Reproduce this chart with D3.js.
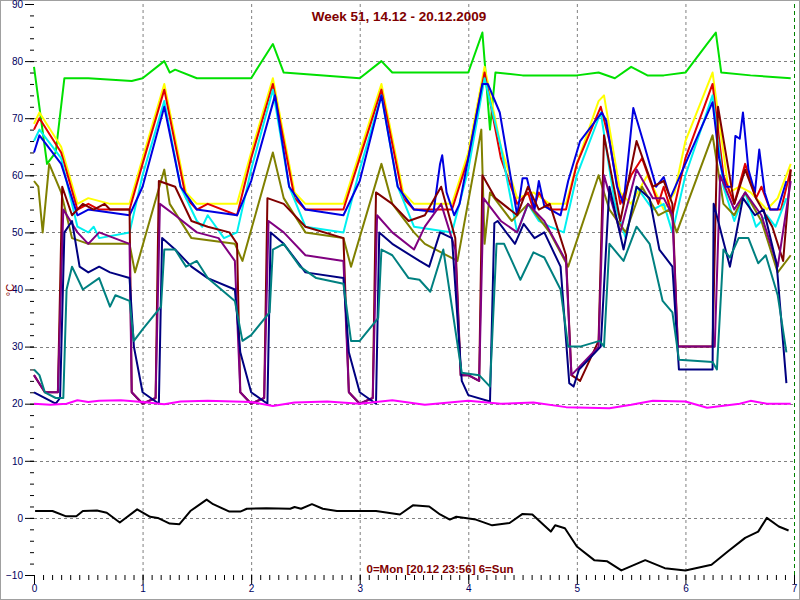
<!DOCTYPE html>
<html><head><meta charset="utf-8">
<script src="https://cdn.jsdelivr.net/npm/d3@7"></script>
<style>body{margin:0;background:#fff}svg{display:block}</style></head>
<body><svg id="c" width="800" height="600"></svg>
<script>
const title = "Week 51, 14.12 - 20.12.2009";
const footer = "0=Mon [20.12 23:56] 6=Sun";
const xTicks = [0,1,2,3,4,5,6,7];
const yTicks = [-10,0,10,20,30,40,50,60,70,80,90];

const green = [[0,79],[0.12,62],[0.2,64],[0.28,77],[0.5,77],[0.9,76.5],[1.0,77],[1.2,80],[1.25,78],[1.3,78.5],[1.5,77],[2.0,77],[2.2,83],[2.3,78],[3.0,77],[3.2,80],[3.3,78],[4.0,78],[4.13,85],[4.2,68],[4.25,78],[4.5,77.5],[5.0,77.5],[5.2,78],[5.35,77],[5.5,79],[5.65,77.5],[5.8,77.5],[6.0,78],[6.2,83],[6.28,85],[6.33,78],[6.6,77.5],[6.97,77]];
const yellow = [[0,69],[0.05,71],[0.25,65],[0.4,55],[0.5,56],[0.7,55],[0.88,55],[1.0,63],[1.2,76],[1.4,57],[1.5,55],[1.7,55],[1.87,55],[2.0,64],[2.2,77],[2.4,57],[2.5,55],[2.85,55],[3.0,64],[3.2,76],[3.4,57],[3.5,55],[3.85,55],[4.0,64],[4.15,79],[4.3,65],[4.45,56],[4.6,57],[4.75,55],[4.9,55],[5.0,62],[5.2,73],[5.25,74],[5.4,57],[5.5,55],[5.65,60],[5.8,54],[5.9,57],[6.0,66],[6.25,78],[6.4,57],[6.5,58],[6.6,57],[6.75,54],[6.85,56],[6.97,62]];
const red = [[0,68],[0.05,70],[0.25,64],[0.4,54],[0.5,55],[0.6,54],[0.88,54],[1.0,62],[1.2,75],[1.4,56],[1.5,54],[1.6,55],[1.87,53],[2.0,63],[2.2,76],[2.4,56],[2.5,54],[2.85,54],[3.0,63],[3.2,75],[3.4,56],[3.5,54],[3.85,54],[4.0,63],[4.15,78],[4.3,63],[4.45,55],[4.55,57],[4.6,54],[4.65,57],[4.75,54],[4.9,54],[5.0,62],[5.22,72],[5.3,66],[5.4,55],[5.5,60],[5.6,63],[5.75,55],[5.8,58],[5.88,53],[6.0,63],[6.25,76],[6.35,60],[6.45,55],[6.55,62],[6.65,56],[6.7,58],[6.78,54],[6.88,54],[6.97,61]];
const cyan = [[0,66],[0.05,68],[0.25,63],[0.4,51],[0.5,50],[0.55,51],[0.6,49],[0.88,50],[1.0,60],[1.2,73],[1.35,58],[1.5,52],[1.55,51],[1.6,53],[1.75,49],[1.87,50],[2.0,61],[2.2,75],[2.35,58],[2.5,51],[2.85,50],[3.0,61],[3.2,74],[3.35,58],[3.5,51],[3.85,50],[4.0,61],[4.15,77],[4.3,65],[4.45,50],[4.55,55],[4.65,52],[4.75,51],[4.88,50],[5.0,60],[5.22,71],[5.35,55],[5.45,49],[5.55,58],[5.7,54],[5.8,55],[5.88,50],[6.0,60],[6.25,74],[6.35,58],[6.45,52],[6.55,57],[6.65,51],[6.75,53],[6.83,51],[6.93,56]];
const blue = [[0,64],[0.05,67],[0.25,62],[0.4,53],[0.5,54],[0.88,53],[1.0,58],[1.2,72],[1.35,58],[1.5,54],[1.87,53],[2.0,59],[2.22,74],[2.35,58],[2.5,54],[2.85,53],[3.0,59],[3.2,74],[3.35,58],[3.5,54],[3.68,53.6],[3.74,62],[3.76,63.5],[3.8,57],[3.87,53],[3.92,55],[4.13,76],[4.18,76],[4.29,71],[4.45,53],[4.5,59.5],[4.54,59.5],[4.61,54],[4.65,59],[4.7,54.6],[4.85,53],[4.92,59],[5.03,66],[5.23,71],[5.27,69.6],[5.37,58],[5.43,55],[5.52,71.8],[5.61,66],[5.73,58],[5.8,59.7],[5.86,56],[6.25,72.8],[6.31,63],[6.37,58],[6.43,58],[6.46,66.9],[6.5,66.4],[6.53,71],[6.58,61],[6.64,57],[6.68,64.5],[6.73,57],[6.78,54],[6.85,54],[6.93,59]];
const olive = [[0,59],[0.04,58],[0.08,50],[0.14,62],[0.25,57],[0.35,49],[0.5,48],[0.88,48],[0.93,43],[1.2,61],[1.25,55],[1.45,49],[1.85,48],[1.92,45],[2.2,64],[2.3,56],[2.5,50],[2.85,49],[2.92,44],[3.2,62],[3.3,55],[3.5,50],[3.6,48],[3.9,45],[4.12,68],[4.15,48],[4.2,57],[4.4,52],[4.55,55],[4.75,50],[4.92,44],[5.2,60],[5.3,54],[5.45,50],[5.6,58],[5.75,53],[5.85,54],[5.92,50],[6.25,67],[6.35,55],[6.45,53],[6.55,57],[6.7,52],[6.85,43],[6.97,46]];
const maroon = [[0,25],[0.1,22],[0.22,22],[0.26,58],[0.35,53],[0.45,55],[0.55,54],[0.65,55],[0.7,54],[0.88,54],[0.9,22],[1.0,20],[1.12,21],[1.15,59],[1.3,58],[1.45,52],[1.6,51],[1.8,50],[1.87,48],[1.9,22],[2.0,20],[2.12,21],[2.15,56],[2.3,55],[2.5,51],[2.85,49],[2.9,22],[3.0,20],[3.12,21],[3.15,57],[3.3,55],[3.45,52],[3.6,53],[3.75,58],[3.88,49],[3.93,25],[4.0,25],[4.1,24],[4.13,60],[4.25,56],[4.45,53],[4.55,58],[4.65,54],[4.75,55],[4.9,46],[4.95,25],[5.03,24],[5.2,31],[5.25,67],[5.4,52],[5.55,66],[5.7,58],[5.8,59],[5.88,55],[5.93,30],[6.25,30],[6.3,72],[6.45,55],[6.55,61],[6.65,56],[6.8,51],[6.9,45],[6.97,61]];
const purple = [[0,25],[0.1,22],[0.22,22],[0.27,54],[0.4,50],[0.5,48],[0.6,50],[0.88,48],[0.9,22],[1.0,20],[1.12,21],[1.16,55],[1.3,53],[1.5,50],[1.7,49],[1.85,45],[1.9,22],[2.0,20],[2.12,21],[2.16,52],[2.3,50],[2.5,46],[2.85,45],[2.9,22],[3.0,20],[3.12,21],[3.16,53],[3.3,50],[3.5,47],[3.6,51],[3.75,55],[3.88,47],[3.93,25],[4.0,25],[4.1,24],[4.14,56],[4.3,52],[4.45,50],[4.55,55],[4.7,52],[4.9,45],[4.95,25],[5.2,30],[5.25,60],[5.4,50],[5.55,61],[5.7,56],[5.8,56],[5.88,53],[5.93,30],[6.27,30],[6.32,60],[6.45,54],[6.55,57],[6.7,53],[6.85,44],[6.97,59]];
const navy = [[0,22],[0.2,20],[0.24,21],[0.28,50],[0.35,52],[0.42,44],[0.5,43],[0.6,44],[0.7,43],[0.88,42],[0.92,30],[1.0,22],[1.15,20],[1.18,49],[1.3,47],[1.45,44],[1.6,42],[1.85,40],[1.9,29],[2.0,22],[2.15,20],[2.18,50],[2.3,48],[2.5,43],[2.85,42],[2.9,29],[3.0,22],[3.15,20],[3.18,50],[3.3,48],[3.55,45],[3.64,44],[3.74,50],[3.85,49],[3.94,24],[4.0,21.5],[4.2,20.4],[4.24,51.6],[4.27,52],[4.43,48],[4.51,51.5],[4.61,49],[4.7,50],[4.85,44],[4.93,23.6],[4.97,23],[5.02,26],[5.22,30],[5.3,58],[5.43,47],[5.55,58],[5.67,56],[5.76,47],[5.88,44],[5.94,26],[6.25,26],[6.26,55],[6.41,44],[6.53,56],[6.64,53],[6.72,54],[6.84,44.5],[6.93,23.6]];
const teal = [[0,26],[0.05,25],[0.1,22],[0.2,21],[0.27,21],[0.3,40],[0.35,44],[0.45,40],[0.6,42],[0.7,37],[0.75,39],[0.88,38],[0.92,31],[1.0,33],[1.17,37],[1.2,47],[1.3,47],[1.4,44],[1.5,45],[1.6,42],[1.85,38],[1.92,31],[2.0,32],[2.17,36],[2.2,47],[2.3,48],[2.45,44],[2.6,42],[2.85,41],[2.92,31],[3.0,31],[3.17,35],[3.2,47],[3.3,46],[3.45,42],[3.55,41.7],[3.65,39.6],[3.77,47],[3.94,25.4],[4.1,25],[4.2,23],[4.26,48],[4.33,48],[4.48,41.7],[4.6,46.5],[4.7,45.6],[4.85,40],[4.92,30],[5.03,30],[5.21,31],[5.25,30],[5.3,48],[5.43,45],[5.55,51],[5.67,48],[5.79,38],[5.88,36],[5.94,27.7],[6.25,27.3],[6.29,26],[6.35,47],[6.41,45.6],[6.49,49],[6.58,49],[6.67,44.6],[6.74,46],[6.85,39],[6.93,29]];
const magenta = [[0,20],[0.15,19.8],[0.3,20],[0.4,20.6],[0.5,20.3],[0.6,20.5],[0.8,20.6],[1.0,20.3],[1.2,19.9],[1.35,20.4],[1.6,20.5],[2.0,20.3],[2.2,19.6],[2.4,20.2],[2.7,20.4],[3.0,20.0],[3.3,20.6],[3.6,19.8],[4.0,20.5],[4.3,20.0],[4.6,20.2],[4.9,19.4],[5.3,19.2],[5.5,19.8],[5.7,20.5],[6.0,20.4],[6.2,19.3],[6.5,20.0],[6.6,20.5],[6.75,20],[6.97,20]];
const black = [[0.01,1.2],[0.17,1.2],[0.29,0.3],[0.39,0.3],[0.45,1.2],[0.58,1.3],[0.67,0.9],[0.79,-0.8],[0.95,1.5],[1.07,0.2],[1.14,0],[1.25,-1],[1.34,-1.1],[1.44,1.2],[1.59,3.2],[1.65,2.4],[1.8,1.1],[1.9,1.1],[1.96,1.6],[2.14,1.7],[2.36,1.6],[2.4,1.9],[2.46,1.6],[2.56,2.4],[2.66,1.6],[2.79,1.2],[3.03,1.2],[3.15,1.2],[3.37,0.6],[3.49,2.2],[3.64,2],[3.74,0.6],[3.83,-0.3],[3.89,0.2],[4.07,-0.3],[4.22,-1.3],[4.38,-0.9],[4.5,0.7],[4.59,0.6],[4.76,-2.4],[4.8,-1.3],[4.89,-1.8],[5.0,-5],[5.16,-7.4],[5.28,-7.6],[5.41,-9.2],[5.63,-7.4],[5.81,-8.8],[6.0,-9.2],[6.24,-8.2],[6.39,-5.9],[6.55,-3.5],[6.67,-2.4],[6.75,0],[6.86,-1.5],[6.95,-2.2]];

const series = [
  {d:green,c:"#00e000"},{d:yellow,c:"#ffff00"},{d:red,c:"#e00000"},{d:cyan,c:"#00f0f0"},
  {d:blue,c:"#0000e0"},{d:olive,c:"#808000"},{d:maroon,c:"#800000"},{d:purple,c:"#800080"},
  {d:navy,c:"#000080"},{d:teal,c:"#008080"},{d:magenta,c:"#ff00ff"},{d:black,c:"#000000"}];

const svg = d3.select("#c");
const x = d3.scaleLinear().domain([0,7]).range([34,794]);
const y = d3.scaleLinear().domain([-10,90]).range([575,4]);

svg.append("rect").attr("x",0.5).attr("y",0.5).attr("width",799).attr("height",599).attr("fill","#fff").attr("stroke","#a0a0a0");

const g = svg.append("g").attr("stroke","#808080").attr("stroke-dasharray","3,3").attr("stroke-width",1);
xTicks.filter(v=>v>0&&v<7).forEach(v=>g.append("line").attr("x1",x(v)+.5).attr("x2",x(v)+.5).attr("y1",4).attr("y2",575));
yTicks.filter(v=>v>-10&&v<90).forEach(v=>g.append("line").attr("x1",34).attr("x2",794).attr("y1",Math.round(y(v))+.5).attr("y2",Math.round(y(v))+.5));
svg.append("line").attr("x1",x(7)+.5).attr("x2",x(7)+.5).attr("y1",4).attr("y2",575).attr("stroke","#008000").attr("stroke-dasharray","4,3");

const ya = svg.append("g").attr("transform","translate(34,0)")
  .call(d3.axisLeft(y).tickValues(d3.range(-10,91,2)).tickSize(4).tickFormat(""));
ya.select(".domain").remove();
ya.selectAll("line").attr("stroke","#000");
const yb = svg.append("g").attr("transform","translate(34,0)")
  .call(d3.axisLeft(y).tickValues(yTicks).tickSize(9).tickPadding(2));
yb.select(".domain").remove();
yb.selectAll("line").attr("stroke","#000");
yb.selectAll("text").attr("fill","#000060").attr("font-family","Arial, Liberation Sans").attr("font-size",10);

const xa = svg.append("g").attr("transform","translate(0,575)")
  .call(d3.axisBottom(x).tickValues(d3.range(0,7.001,1/12)).tickSize(5).tickFormat(""));
xa.select(".domain").remove();
xa.selectAll("line").attr("stroke","#000");
const xb = svg.append("g").attr("transform","translate(0,575)")
  .call(d3.axisBottom(x).tickValues(xTicks).tickSize(9).tickPadding(1).tickFormat(d3.format("d")));
xb.select(".domain").remove();
xb.selectAll("line").attr("stroke","#000");
xb.selectAll("text").attr("fill","#000060").attr("font-family","Arial, Liberation Sans").attr("font-size",10);

const line = d3.line().x(d=>x(d[0])).y(d=>y(d[1]));
series.forEach(s=>svg.append("path").attr("d",line(s.d)).attr("fill","none").attr("stroke",s.c).attr("stroke-width",2).attr("stroke-linejoin","round"));

svg.append("text").attr("x",399).attr("y",21).attr("text-anchor","middle").attr("fill","#800000")
  .attr("font-family","Arial, Liberation Sans").attr("font-weight","bold").attr("font-size",13.5).text(title);
svg.append("text").attr("x",440).attr("y",573).attr("text-anchor","middle").attr("fill","#800000")
  .attr("font-family","Arial, Liberation Sans").attr("font-weight","bold").attr("font-size",11.5).text(footer);
svg.append("text").attr("transform","translate(14,290) rotate(-90)").attr("text-anchor","middle").attr("fill","#800000")
  .attr("font-family","Arial, Liberation Sans").attr("font-size",11).text("°C");
</script></body></html>
